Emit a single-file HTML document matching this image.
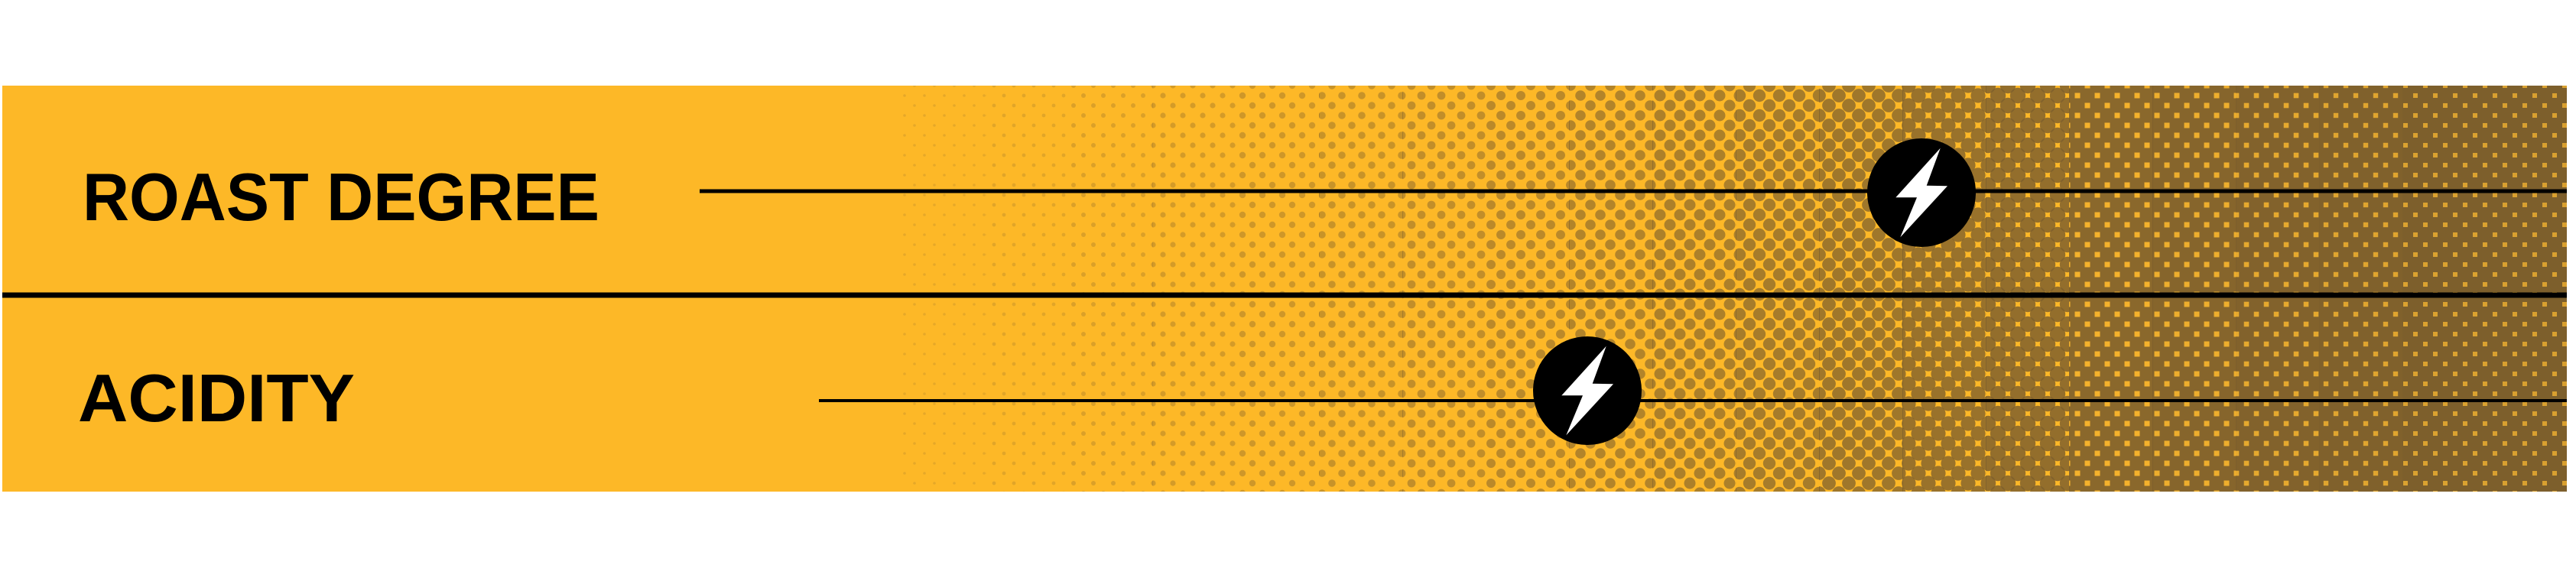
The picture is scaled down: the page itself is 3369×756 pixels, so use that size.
<!DOCTYPE html>
<html><head><meta charset="utf-8"><style>
html,body{margin:0;padding:0;background:#fff;}
svg{display:block;}
</style></head><body>
<svg width="3369" height="756" viewBox="0 0 3369 756" xmlns="http://www.w3.org/2000/svg">
<defs>
<pattern id="p0" patternUnits="userSpaceOnUse" x="0" y="112" width="26" height="26"><g fill="#7d5f2c" fill-opacity="0.18"><circle cx="0" cy="0" r="1.8"/><circle cx="26" cy="0" r="1.8"/><circle cx="0" cy="26" r="1.8"/><circle cx="26" cy="26" r="1.8"/><circle cx="13" cy="13" r="1.8"/></g></pattern>
<pattern id="p1" patternUnits="userSpaceOnUse" x="0" y="112" width="26" height="26"><g fill="#7d5f2c" fill-opacity="0.22"><circle cx="0" cy="0" r="2.4"/><circle cx="26" cy="0" r="2.4"/><circle cx="0" cy="26" r="2.4"/><circle cx="26" cy="26" r="2.4"/><circle cx="13" cy="13" r="2.4"/></g></pattern>
<pattern id="p2" patternUnits="userSpaceOnUse" x="0" y="112" width="26" height="26"><g fill="#7d5f2c" fill-opacity="0.27"><circle cx="0" cy="0" r="3.0"/><circle cx="26" cy="0" r="3.0"/><circle cx="0" cy="26" r="3.0"/><circle cx="26" cy="26" r="3.0"/><circle cx="13" cy="13" r="3.0"/></g></pattern>
<pattern id="p3" patternUnits="userSpaceOnUse" x="0" y="112" width="26" height="26"><g fill="#7d5f2c" fill-opacity="0.32"><circle cx="0" cy="0" r="3.6"/><circle cx="26" cy="0" r="3.6"/><circle cx="0" cy="26" r="3.6"/><circle cx="26" cy="26" r="3.6"/><circle cx="13" cy="13" r="3.6"/></g></pattern>
<pattern id="p4" patternUnits="userSpaceOnUse" x="0" y="112" width="26" height="26"><g fill="#7d5f2c" fill-opacity="0.37"><circle cx="0" cy="0" r="4.2"/><circle cx="26" cy="0" r="4.2"/><circle cx="0" cy="26" r="4.2"/><circle cx="26" cy="26" r="4.2"/><circle cx="13" cy="13" r="4.2"/></g></pattern>
<pattern id="p5" patternUnits="userSpaceOnUse" x="0" y="112" width="26" height="26"><g fill="#7d5f2c" fill-opacity="0.42"><circle cx="0" cy="0" r="4.8"/><circle cx="26" cy="0" r="4.8"/><circle cx="0" cy="26" r="4.8"/><circle cx="26" cy="26" r="4.8"/><circle cx="13" cy="13" r="4.8"/></g></pattern>
<pattern id="p6" patternUnits="userSpaceOnUse" x="0" y="112" width="26" height="26"><g fill="#7d5f2c" fill-opacity="0.47"><circle cx="0" cy="0" r="5.4"/><circle cx="26" cy="0" r="5.4"/><circle cx="0" cy="26" r="5.4"/><circle cx="26" cy="26" r="5.4"/><circle cx="13" cy="13" r="5.4"/></g></pattern>
<pattern id="p7" patternUnits="userSpaceOnUse" x="0" y="112" width="26" height="26"><g fill="#7d5f2c" fill-opacity="0.52"><circle cx="0" cy="0" r="6.0"/><circle cx="26" cy="0" r="6.0"/><circle cx="0" cy="26" r="6.0"/><circle cx="26" cy="26" r="6.0"/><circle cx="13" cy="13" r="6.0"/></g></pattern>
<pattern id="p8" patternUnits="userSpaceOnUse" x="0" y="112" width="26" height="26"><g fill="#7d5f2c" fill-opacity="0.58"><circle cx="0" cy="0" r="6.8"/><circle cx="26" cy="0" r="6.8"/><circle cx="0" cy="26" r="6.8"/><circle cx="26" cy="26" r="6.8"/><circle cx="13" cy="13" r="6.8"/></g></pattern>
<pattern id="p9" patternUnits="userSpaceOnUse" x="0" y="112" width="26" height="26"><g fill="#7d5f2c" fill-opacity="0.63"><circle cx="0" cy="0" r="7.5"/><circle cx="26" cy="0" r="7.5"/><circle cx="0" cy="26" r="7.5"/><circle cx="26" cy="26" r="7.5"/><circle cx="13" cy="13" r="7.5"/></g></pattern>
<pattern id="p10" patternUnits="userSpaceOnUse" x="0" y="112" width="26" height="26"><g fill="#7d5f2c" fill-opacity="0.68"><circle cx="0" cy="0" r="8.2"/><circle cx="26" cy="0" r="8.2"/><circle cx="0" cy="26" r="8.2"/><circle cx="26" cy="26" r="8.2"/><circle cx="13" cy="13" r="8.2"/></g></pattern>
<pattern id="p11" patternUnits="userSpaceOnUse" x="0" y="112" width="26" height="26"><g fill="#7d5f2c" fill-opacity="0.73"><circle cx="0" cy="0" r="8.9"/><circle cx="26" cy="0" r="8.9"/><circle cx="0" cy="26" r="8.9"/><circle cx="26" cy="26" r="8.9"/><circle cx="13" cy="13" r="8.9"/></g></pattern>
<pattern id="p12" patternUnits="userSpaceOnUse" x="0" y="112" width="26" height="26"><g fill="#7d5f2c" fill-opacity="0.78"><circle cx="0" cy="0" r="9.6"/><circle cx="26" cy="0" r="9.6"/><circle cx="0" cy="26" r="9.6"/><circle cx="26" cy="26" r="9.6"/><circle cx="13" cy="13" r="9.6"/></g></pattern>
<pattern id="p13" patternUnits="userSpaceOnUse" x="0" y="112" width="26" height="26"><g fill="#7d5f2c" fill-opacity="0.83"><circle cx="0" cy="0" r="10.2"/><circle cx="26" cy="0" r="10.2"/><circle cx="0" cy="26" r="10.2"/><circle cx="26" cy="26" r="10.2"/><circle cx="13" cy="13" r="10.2"/></g></pattern>
<pattern id="p14" patternUnits="userSpaceOnUse" x="0" y="112" width="26" height="26"><rect x="0" y="0" width="26" height="26" fill="#7d5f2c" fill-opacity="0.9"/><g fill="#f5b22c"><rect x="9.5" y="9.5" width="7" height="7"/><rect x="-3.5" y="-3.5" width="7" height="7"/><rect x="22.5" y="-3.5" width="7" height="7"/><rect x="-3.5" y="22.5" width="7" height="7"/><rect x="22.5" y="22.5" width="7" height="7"/></g></pattern>
<pattern id="p15" patternUnits="userSpaceOnUse" x="0" y="112" width="26" height="26"><rect x="0" y="0" width="26" height="26" fill="#7d5f2c" fill-opacity="0.93"/><g fill="#eeae2d"><rect x="9.5" y="9.5" width="7" height="7"/><rect x="-3.5" y="-3.5" width="7" height="7"/><rect x="22.5" y="-3.5" width="7" height="7"/><rect x="-3.5" y="22.5" width="7" height="7"/><rect x="22.5" y="22.5" width="7" height="7"/></g></pattern>
<pattern id="p16" patternUnits="userSpaceOnUse" x="0" y="112" width="26" height="26"><rect x="0" y="0" width="26" height="26" fill="#7d5f2c" fill-opacity="0.96"/><g fill="#e6a92e"><rect x="9.7" y="9.7" width="6.6" height="6.6"/><rect x="-3.3" y="-3.3" width="6.6" height="6.6"/><rect x="22.7" y="-3.3" width="6.6" height="6.6"/><rect x="-3.3" y="22.7" width="6.6" height="6.6"/><rect x="22.7" y="22.7" width="6.6" height="6.6"/></g></pattern>
<pattern id="p17" patternUnits="userSpaceOnUse" x="0" y="112" width="26" height="26"><rect x="0" y="0" width="26" height="26" fill="#7d5f2c" fill-opacity="0.98"/><g fill="#e0a52f"><rect x="9.8" y="9.8" width="6.4" height="6.4"/><rect x="-3.2" y="-3.2" width="6.4" height="6.4"/><rect x="22.8" y="-3.2" width="6.4" height="6.4"/><rect x="-3.2" y="22.8" width="6.4" height="6.4"/><rect x="22.8" y="22.8" width="6.4" height="6.4"/></g></pattern>
<pattern id="p18" patternUnits="userSpaceOnUse" x="0" y="112" width="26" height="26"><rect x="0" y="0" width="26" height="26" fill="#7d5f2c"/><g fill="#dba230"><rect x="10" y="10" width="6" height="6"/><rect x="-3" y="-3" width="6" height="6"/><rect x="23" y="-3" width="6" height="6"/><rect x="-3" y="23" width="6" height="6"/><rect x="23" y="23" width="6" height="6"/></g></pattern>
<pattern id="p19" patternUnits="userSpaceOnUse" x="0" y="112" width="26" height="26"><rect x="0" y="0" width="26" height="26" fill="#7d5f2c"/><g fill="#d9a030"><rect x="10" y="10" width="6" height="6"/><rect x="-3" y="-3" width="6" height="6"/><rect x="23" y="-3" width="6" height="6"/><rect x="-3" y="23" width="6" height="6"/><rect x="23" y="23" width="6" height="6"/></g></pattern>
</defs>
<rect x="3" y="112" width="3354" height="531" fill="#fdb827"/>
<g>
<rect x="1180" y="112" width="110" height="531" fill="url(#p0)"/>
<rect x="1289" y="112" width="110" height="531" fill="url(#p1)"/>
<rect x="1398" y="112" width="110" height="531" fill="url(#p2)"/>
<rect x="1507" y="112" width="110" height="531" fill="url(#p3)"/>
<rect x="1616" y="112" width="110" height="531" fill="url(#p4)"/>
<rect x="1725" y="112" width="110" height="531" fill="url(#p5)"/>
<rect x="1834" y="112" width="110" height="531" fill="url(#p6)"/>
<rect x="1943" y="112" width="110" height="531" fill="url(#p7)"/>
<rect x="2052" y="112" width="110" height="531" fill="url(#p8)"/>
<rect x="2161" y="112" width="110" height="531" fill="url(#p9)"/>
<rect x="2270" y="112" width="110" height="531" fill="url(#p10)"/>
<rect x="2379" y="112" width="110" height="531" fill="url(#p11)"/>
<rect x="2488" y="112" width="110" height="531" fill="url(#p12)"/>
<rect x="2597" y="112" width="110" height="531" fill="url(#p13)"/>
<rect x="2706" y="112" width="110" height="531" fill="url(#p14)"/>
<rect x="2815" y="112" width="110" height="531" fill="url(#p15)"/>
<rect x="2924" y="112" width="110" height="531" fill="url(#p16)"/>
<rect x="3033" y="112" width="110" height="531" fill="url(#p17)"/>
<rect x="3142" y="112" width="110" height="531" fill="url(#p18)"/>
<rect x="3251" y="112" width="106" height="531" fill="url(#p19)"/>
</g>
<rect x="3" y="382.5" width="3354" height="7" fill="#000"/>
<rect x="915" y="247.5" width="2442" height="5" fill="#000"/>
<rect x="1071" y="522" width="2286" height="4" fill="#000"/>
<text x="108" y="288" font-family="Liberation Sans, Arial, sans-serif" font-weight="bold" font-size="88" textLength="676" lengthAdjust="spacingAndGlyphs" fill="#000">ROAST DEGREE</text>
<text x="102" y="551" font-family="Liberation Sans, Arial, sans-serif" font-weight="bold" font-size="88" textLength="362" lengthAdjust="spacingAndGlyphs" fill="#000">ACIDITY</text>
<g transform="translate(2513,252)">
<circle cx="0" cy="0" r="71" fill="#000"/>
<polygon points="24.7,-58.3 -33.7,6.3 -6,6.3 -27.7,58.3 34,-8.7 6.7,-9.3" fill="#fff"/>
</g>
<g transform="translate(2076,511)">
<circle cx="0" cy="0" r="71" fill="#000"/>
<polygon points="24.7,-58.3 -33.7,6.3 -6,6.3 -27.7,58.3 34,-8.7 6.7,-9.3" fill="#fff"/>
</g>
</svg>
</body></html>
